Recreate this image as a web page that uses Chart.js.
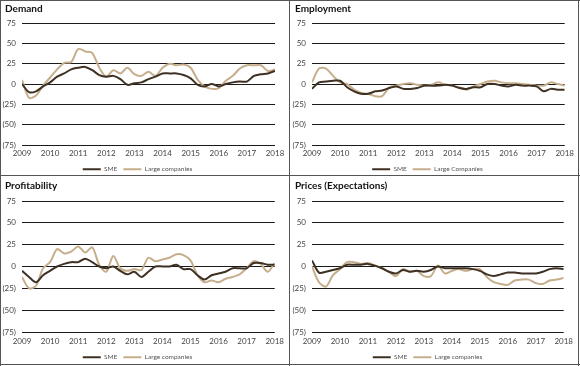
<!DOCTYPE html>
<html>
<head>
<meta charset="utf-8">
<script src="https://cdn.jsdelivr.net/npm/chart.js@4/dist/chart.umd.min.js"></script>
<style>
  html, body { margin: 0; padding: 0; background: #fff; }
  #wrap { position: relative; width: 580px; height: 366px; overflow: hidden; }
  canvas { position: absolute; }
  .rule { position: absolute; background: #555; z-index: 2; }
</style>
</head>
<body>
<div id="wrap">
  <canvas id="demand" style="left:0;top:0"></canvas>
  <canvas id="employment" style="left:290px;top:0"></canvas>
  <canvas id="profit" style="left:0;top:176px"></canvas>
  <canvas id="prices" style="left:290px;top:176px"></canvas>
  <div class="rule" style="left:0;top:0;width:580px;height:1px"></div>
  <div class="rule" style="left:0;top:0;width:1px;height:366px"></div>
  <div class="rule" style="left:578px;top:0;width:1px;height:366px"></div>
  <div class="rule" style="left:0;top:364px;width:580px;height:1px"></div>
  <div class="rule" style="left:289px;top:0;width:1px;height:366px"></div>
  <div class="rule" style="left:0;top:175px;width:580px;height:1px"></div>
</div>
<script>
// quarterly readings, 2009 Q1 .. 2018 Q1
const startYear = 2009;
const endYear = 2018;
const yTicks = [-75, -50, -25, 0, 25, 50, 75];

const demandSME   = [0, -10, -9, -3, 2, 9, 13, 18, 20, 21, 17, 11, 9, 10, 6, -1, 1, 2, 6, 9, 13, 13, 13, 11, 7, -1, -3, 0, -3, 0, 2, 3, 3, 10, 12, 13, 16];
const demandLarge = [5, -17, -14, -2, 8, 18, 26, 27, 43, 40, 38, 20, 9, 17, 13, 20, 12, 10, 15, 10, 20, 25, 23, 24, 20, 5, -3, -6, -5, 4, 10, 19, 23, 23, 23, 16, 18];

const employmentSME   = [-6, 2, 3, 4, 4, -4, -9, -12, -12, -9, -8, -5, -3, -6, -6, -5, -2, -2, -2, -1, -2, -5, -6, -4, -4, 0, 0, -2, -3, -1, -2, -2, -3, -9, -6, -7, -7];
const employmentLarge = [2, 19, 19, 10, 2, 0, -7, -11, -12, -15, -15, -4, -2, 0, 1, -1, -2, -1, 2, -1, -2, -4, -7, -3, 0, 3, 4, 2, 1, 1, 0, -1, -2, -2, 2, 0, -2];

const profitSME   = [-5, -12, -18, -10, -5, 0, 3, 5, 5, 9, 5, 0, -2, 0, -5, -9, -6, -12, -6, 0, 0, 0, 2, -3, -3, -10, -15, -10, -8, -6, -2, -2, -2, 4, 4, 2, 2];
const profitLarge = [-12, -25, -22, -2, 5, 20, 15, 17, 23, 16, 22, 2, -6, 12, -2, -5, -3, -4, 10, 6, 8, 10, 14, 13, 7, -10, -18, -16, -18, -14, -12, -9, -2, 6, 3, -6, 4];

const pricesSME   = [7, -7, -6, -4, -2, 2, 2, 2, 3, 1, -2, -6, -8, -4, -6, -5, -6, -4, 0, -2, -2, -2, -2, -3, -5, -9, -11, -9, -7, -7, -8, -8, -8, -6, -3, -2, -3];
const pricesLarge = [0, -18, -23, -10, -3, 5, 5, 3, 4, 1, -2, -6, -11, -3, -6, -5, -11, -11, 1, -8, -5, -3, -5, -3, -3, -12, -18, -20, -21, -16, -15, -15, -19, -20, -16, -15, -13];

const smeColor = '#3e3124';
const largeColor = '#c6ae8c';
const font = 'Lato, "DejaVu Sans", sans-serif';

function toPoints(values) {
  return values.map((v, i) => ({ x: startYear + i / 4, y: v }));
}

function makePanel(id, title, sme, large, largeLabel, w, h, box) {
  const cv = document.getElementById(id);
  cv.width = w; cv.height = h;
  cv.style.width = w + 'px'; cv.style.height = h + 'px';
  new Chart(cv, {
    type: 'line',
    data: {
      datasets: [
        { label: 'SME', data: toPoints(sme), borderColor: smeColor, backgroundColor: smeColor, borderWidth: 2, pointRadius: 0, tension: 0.3 },
        { label: largeLabel, data: toPoints(large), borderColor: largeColor, backgroundColor: largeColor, borderWidth: 2, pointRadius: 0, tension: 0.3 }
      ]
    },
    options: {
      responsive: false,
      animation: false,
      devicePixelRatio: 1,
      layout: { padding: { left: 0, right: w - 22 - 253, top: 0, bottom: 0 } },
      scales: {
        x: {
          type: 'linear', min: startYear, max: endYear,
          grid: { display: false, drawTicks: false }, border: { display: false },
          afterFit: s => { s.height = box.xh; },
          ticks: { stepSize: 1, padding: box.xpad, color: '#444', font: { family: font, size: 8 }, maxRotation: 0, callback: v => String(v) }
        },
        y: {
          min: -75, max: 75,
          afterFit: s => { s.width = 22; },
          afterBuildTicks: s => { s.ticks = yTicks.map(v => ({ value: v })); },
          grid: { color: '#1a1a1a', lineWidth: 1, drawTicks: false },
          border: { display: false },
          ticks: { padding: 6, color: '#444', font: { family: font, size: 8 }, callback: v => v < 0 ? '(' + (-v) + ')' : String(v) }
        }
      },
      plugins: {
        title: { display: true, text: title, align: 'start', color: '#111', font: { family: font, size: 10, weight: 'bold' }, padding: { top: box.tTop, bottom: box.tBottom } },
        legend: {
          position: 'bottom',
          labels: { usePointStyle: true, pointStyle: 'line', pointStyleWidth: 18, padding: 6, color: '#555', font: { family: font, size: 6.5 } }
        },
        tooltip: { enabled: false }
      }
    },
    plugins: [{
      id: 'panelTweaks',
      beforeInit(chart) {
        const fit = chart.legend.fit;
        chart.legend.fit = function () { fit.call(this); this.height = box.lh; };
      },
      afterLayout(chart) {
        // indent the panel title a little from the frame
        chart.titleBlock.left = 5;
      }
    }]
  });
}

const topBox = { tTop: 3, tBottom: 8, xh: 15, xpad: 4, lh: 15 };
const botBox = { tTop: 4, tBottom: 9, xh: 16, xpad: 5, lh: 17 };

makePanel('demand', 'Demand', demandSME, demandLarge, 'Large companies', 289, 175, topBox);
makePanel('employment', 'Employment', employmentSME, employmentLarge, 'Large Companies', 288, 175, topBox);
makePanel('profit', 'Profitability', profitSME, profitLarge, 'Large companies', 289, 189, botBox);
makePanel('prices', 'Prices (Expectations)', pricesSME, pricesLarge, 'Large companies', 288, 189, botBox);
</script>
</body>
</html>
